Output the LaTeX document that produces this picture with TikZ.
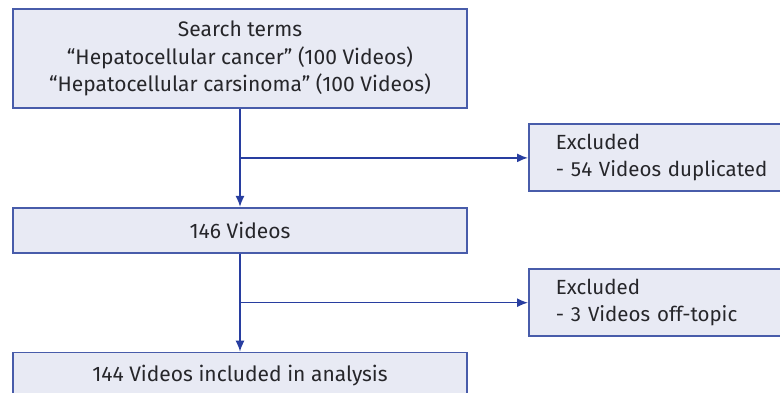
\documentclass[tikz,border=0pt]{standalone}
\usepackage{fontspec}
\setmainfont{Fira Sans}
\usetikzlibrary{positioning, calc, arrows.meta}
\definecolor{boxfill}{RGB}{232,234,244}
\definecolor{boxline}{RGB}{72,92,170}
\definecolor{flowline}{RGB}{40,62,160}
\definecolor{txt}{RGB}{38,38,42}

\begin{document}
\begin{tikzpicture}[x=1pt,y=1pt,
  box/.style={draw=boxline, line width=1.8pt, fill=boxfill, text=txt, font=\fontsize{21}{27.5}\selectfont, align=center, minimum width=454pt, inner sep=0pt},
  exbox/.style={draw=boxline, line width=1.8pt, fill=boxfill, text=txt, font=\fontsize{20.5}{27}\selectfont, align=left, text width=260pt, inner xsep=27pt, inner ysep=0pt, minimum height=67pt},
  flow/.style={flowline, line width=1.5pt, -{Latex[length=11pt,width=9pt]}}]
\clip (0,0) rectangle (780,393);
\useasboundingbox (0,0) rectangle (780,393);
\node[box, minimum height=99pt] (S) at (240,334.5) {Search terms\\“Hepatocellular cancer” (100 Videos)\\“Hepatocellular carsinoma” (100 Videos)};
\node[box, minimum height=45pt, below=98pt of S] (V146) {146 Videos};
\node[box, minimum height=45pt, below=98pt of V146] (V144) {144 Videos included in analysis};
\coordinate (J1) at ($(S.south)!0.5!(V146.north)$);
\coordinate (J2) at ($(V146.south)!0.5!(V144.north)$);
\node[exbox, right=288pt of J1] (E1) {Excluded\\- 54 Videos duplicated};
\node[exbox, right=288pt of J2] (E2) {Excluded\\- 3 Videos off-topic};

\draw[flow] (S) -- (V146);
\draw[flow] (V146) -- (V144);
\draw[flow] (J1) -- (E1);
\draw[flow] (J2) -- (E2);
\end{tikzpicture}
\end{document}
